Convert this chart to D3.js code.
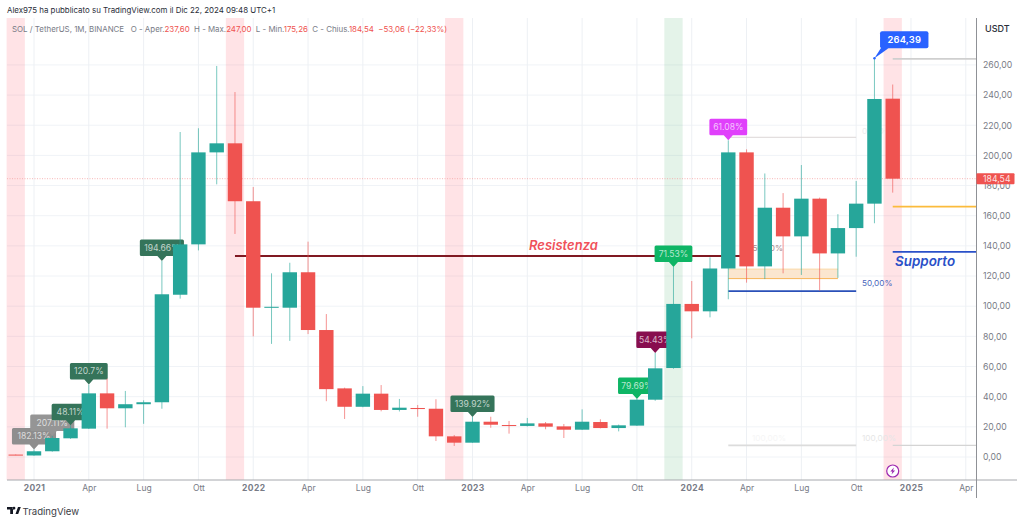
<!DOCTYPE html>
<html><head><meta charset="utf-8">
<script src="https://cdn.jsdelivr.net/npm/d3@7"></script>
<style>html,body{margin:0;padding:0;background:#fff}svg{display:block}text{font-family:Inter,Roboto,sans-serif}</style>
</head><body><svg id="c" width="1024" height="522"></svg>
<script>
// month index: 0 = Jan 2021
const months=[-1,0,1,2,3,4,5,6,7,8,9,10,11,12,13,14,15,16,17,18,19,20,21,22,23,24,25,26,27,28,29,30,31,32,33,34,35,36,37,38,39,40,41,42,43,44,45,46,47];
const opens=[1.6,1,3.8,12.4,18.8,42.2,32.3,35,36.3,107.6,141,202,208,169.6,99,99,122.5,84.2,45.5,33.3,42,31.2,32.5,32,13.7,9.5,23.4,21.2,20.6,22.3,20.3,18.1,23.2,19.2,20.8,38,59,101.5,96.6,125,202,126.4,165.3,146.3,171.3,135,151.8,168,237.6];
const highs=[1.7,5,14,21,48,52,43.8,37.6,130,215.5,218,259.3,242,179,121.8,128.8,142.8,94.8,46,47,47.7,38.5,34.5,38.3,14.6,26.5,26.7,23.9,25.9,23.2,21.9,31.6,25,21.5,38.5,69,126,116.7,132.4,210,204,188,175,193.6,172,161,183,264.4,247];
const lows=[1.2,0.8,3.5,12,18.6,18.8,19.7,22,32,105,137,180.8,147.9,80,75,77,81.5,37,25.2,33,30.3,30.2,26.7,10.6,7.3,9.5,19.4,15.5,20.2,18.4,12.6,17.9,19,17,20.6,37.3,58.5,78.7,92.6,104.6,115.6,118,121.8,120.7,110.3,118.7,132.8,155,175.3];
const closes=[1.5,3.8,12.6,19,42.2,32.3,35,36.3,107.9,141,202,208,169.6,99,99.6,122.5,84.2,45,33.3,42,31.2,32.7,31.8,13.7,9.5,23.4,21.4,20.6,22.3,20.1,18.1,23.4,19.2,21,38,58.8,101.5,96.6,125,202,126.4,165.3,146.3,171.3,135,151.8,168,237.4,184.54];

const priceTicks=[0,20,40,60,80,100,120,140,160,180,200,220,240,260];
const timeTicks=[0,3,6,9,12,15,18,21,24,27,30,33,36,39,42,45,48,51];
const timeLabels=["2021","Apr","Lug","Ott","2022","Apr","Lug","Ott","2023","Apr","Lug","Ott","2024","Apr","Lug","Ott","2025","Apr"];

const pinkBands=[-1,11,23,47];
const greenBands=[35];

const calloutMonths=[0,1,2,3,7,24,33,34,35,38];
const calloutTexts=["182.13%","207.11%","48.11%","120.7%","194.66%","139.92%","79.69%","54.43%","71.53%","61.08%"];
const calloutColors=["#8e8e8e","#959595","#35745a","#35745a","#35745a","#35745a","#0eb565","#880e4f","#0eb565","#e040fb"];

const resistenza=133.3, supporto=136, arancio=166, massimo=264, fibMid=110, fibTop=212, fibBot=7.7;
const zoneTop=124.6, zoneBottom=118.3, lastClose=184.54, peak=264.39;

const svg=d3.select("#c");
const L=7,R=976.5,T=18,B=480;
const x=d3.scaleLinear().domain([0,51]).range([34,965.8]);
const y=d3.scaleLinear().domain([-15.25,291.1]).range([B,T]);
const step=x(1)-x(0), bw=14.4;
const fmt=d3.formatLocale({decimal:",",thousands:".",grouping:[3],currency:["",""]}).format(".2f");
const col=(o,c)=>c>=o?"#26a69a":"#ef5350";

// grid
const grid=svg.append("g");
grid.selectAll(".h").data(priceTicks).join("line").attr("x1",L).attr("x2",R).attr("y1",d=>y(d)).attr("y2",d=>y(d)).attr("stroke","#f0f3f7");
grid.selectAll(".v").data(timeTicks).join("line").attr("x1",d=>x(d)).attr("x2",d=>x(d)).attr("y1",T).attr("y2",B).attr("stroke","#edf0f4");

// bands
svg.append("g").selectAll("rect").data(pinkBands).join("rect").attr("x",d=>x(d)-step/2).attr("width",step).attr("y",T).attr("height",B-T).attr("fill","#ff5261").attr("opacity",.16);
svg.append("g").selectAll("rect").data(greenBands).join("rect").attr("x",d=>x(d)-step/2).attr("width",step).attr("y",T).attr("height",B-T).attr("fill","#4caf6a").attr("opacity",.15);

// last price dotted
svg.append("line").attr("x1",L).attr("x2",R).attr("y1",y(lastClose)).attr("y2",y(lastClose)).attr("stroke","#f5a3a3").attr("stroke-width",.8).attr("stroke-dasharray","1 1.5");

// drawings
const seg=(i0,i1,v,c,w)=>svg.append("line").attr("x1",x(i0)).attr("x2",x(i1)).attr("y1",y(v)).attr("y2",y(v)).attr("stroke",c).attr("stroke-width",w);
svg.append("rect").attr("x",x(38)).attr("width",x(44)-x(38)).attr("y",y(zoneTop)).attr("height",y(zoneBottom)-y(zoneTop)).attr("fill","#fbe6cf").attr("stroke","none");
seg(38,44,zoneTop,"#fbd9a8",1); seg(38,44,zoneBottom,"#f8b65a",1);
seg(11,38.65,resistenza,"#801922",2);
seg(38,45,fibMid,"#2a50b8",1.6);
seg(38,45,fibTop,"#dcd6d6",1);
seg(38,45,fibBot,"#dcdcdc",1.6);
seg(47,x.invert(R),massimo,"#cfcfcf",1.6);
seg(47,x.invert(R),arancio,"#fbbb3c",1.8);
seg(47,x.invert(R),supporto,"#2a50c8",1.8);
seg(47,x.invert(R),fibBot,"#d4d4d4",1.4);

const note=(tx,ty,s,c,size=8.2)=>svg.append("text").attr("x",tx).attr("y",ty).attr("fill",c).attr("font-size",size).text(s);
note(752.5,251,"50,00%","#a88a8a");
note(862,286,"50,00%","#4a66bd");
note(862,441,"100,00%","#e6e6e6");
note(752,441,"100,00%","#f6f6f6");
note(862,134,"0,00%","#ededed");

svg.append("text").attr("x",529).attr("y",250).attr("fill","#f0525a").attr("font-size",13).attr("font-weight",600).attr("font-style","italic").text("Resistenza");
svg.append("text").attr("x",895).attr("y",266).attr("fill","#2a50c8").attr("font-size",13.4).attr("font-weight",600).attr("font-style","italic").text("Supporto");

// callouts (under the candles)
const cg=svg.append("g");
calloutMonths.forEach((m,k)=>{
  const g=cg.append("g");
  const tx=x(m), tipY=y(highs[months.indexOf(m)]);
  const s=calloutTexts[k], w=s.length*6.3, top=tipY-21.5, bot=tipY-5;
  g.append("path").attr("d",`M${tx-w/2+1.5},${top}H${tx+w/2-1.5}Q${tx+w/2},${top} ${tx+w/2},${top+1.5}V${bot-1.5}Q${tx+w/2},${bot} ${tx+w/2-1.5},${bot}H${tx+4.5}L${tx},${tipY}L${tx-4.5},${bot}H${tx-w/2+1.5}Q${tx-w/2},${bot} ${tx-w/2},${bot-1.5}V${top+1.5}Q${tx-w/2},${top} ${tx-w/2+1.5},${top}Z`).attr("fill",calloutColors[k]);
  g.append("text").attr("x",tx).attr("y",top+11.3).attr("text-anchor","middle").attr("font-size",8.6).attr("fill","#fff").attr("fill-opacity",.7).text(s);
});

// candles
const idx=d3.range(months.length);
const cs=svg.append("g");
cs.selectAll(".w").data(idx).join("line").attr("x1",i=>x(months[i])).attr("x2",i=>x(months[i])).attr("y1",i=>y(highs[i])).attr("y2",i=>y(lows[i])).attr("stroke",i=>col(opens[i],closes[i])).attr("stroke-opacity",.62).attr("stroke-width",1);
cs.selectAll(".b").data(idx).join("rect").attr("x",i=>x(months[i])-bw/2).attr("width",bw).attr("y",i=>y(Math.max(opens[i],closes[i]))).attr("height",i=>Math.max(1,Math.abs(y(opens[i])-y(closes[i])))).attr("fill",i=>col(opens[i],closes[i]));

// peak callout
const px=x(46), py=y(peak);
svg.append("path").attr("d",`M${px},${py}L${px+7},${py-11}L${px+14},${py-10}Z`).attr("fill","#2962ff");
svg.append("circle").attr("cx",px).attr("cy",py).attr("r",1.2).attr("fill","#2962ff");
svg.append("rect").attr("x",px+5.6).attr("y",py-27).attr("width",48.4).attr("height",17).attr("rx",2).attr("fill","#2962ff");
svg.append("text").attr("x",px+29.8).attr("y",py-15).attr("text-anchor","middle").attr("fill","#fff").attr("font-size",9.4).attr("font-weight",600).attr("letter-spacing",.2).text(fmt(peak));

// lightning marker
const mg=svg.append("g").attr("transform",`translate(${x(47)},471)`);
mg.append("circle").attr("r",6).attr("fill","#fff").attr("stroke","#9c27b0").attr("stroke-width",1.2);
mg.append("path").attr("d","M1.2,-3.6L-2.4,.6H-.3L-1.2,3.6L2.4,-.6H.3Z").attr("fill","#9c27b0");

// axes
const ay=svg.append("g").attr("transform",`translate(${R},0)`).call(d3.axisRight(y).tickValues(priceTicks).tickFormat(fmt).tickSize(0).tickPadding(6.5));
ay.select(".domain").remove();
ay.selectAll("text").attr("font-size",8.7).attr("fill","#787b86").style("font-family","Inter,Roboto,sans-serif");
const ax=svg.append("g").attr("transform",`translate(0,${B})`).call(d3.axisBottom(x).tickValues(timeTicks).tickFormat((d,i)=>timeLabels[i]).tickSize(0).tickPadding(5));
ax.select(".domain").remove();
ax.selectAll("text").attr("font-size",8.5).attr("fill","#787b86").style("font-family","Inter,Roboto,sans-serif")
  .attr("font-weight",(d,i)=>/^\d/.test(timeLabels[i])?700:400).attr("letter-spacing",(d,i)=>/^\d/.test(timeLabels[i])?.4:0);
svg.append("line").attr("x1",L).attr("x2",1017).attr("y1",B).attr("y2",B).attr("stroke","#a6a8ad").attr("stroke-width",1);
svg.append("line").attr("x1",R).attr("x2",R).attr("y1",T).attr("y2",498).attr("stroke","#8f9196").attr("stroke-width",1);

// last price tag
svg.append("rect").attr("x",R).attr("y",y(lastClose)-5.5).attr("width",38).attr("height",11).attr("rx",1).attr("fill","#ef5350");
svg.append("text").attr("x",R+6.5).attr("y",y(lastClose)+3).attr("fill","#fff").attr("fill-opacity",.85).attr("font-size",8.7).text(fmt(lastClose));
svg.append("text").attr("x",985).attr("y",32).attr("fill","#2a2e39").attr("font-size",9).attr("font-weight",500).text("USDT");

// header
svg.append("text").attr("x",7).attr("y",13).attr("font-size",7.9).attr("fill","#2a2e39").text("Alex975 ha pubblicato su TradingView.com il Dic 22, 2024 09:48 UTC+1");
const leg=svg.append("text").attr("x",12).attr("y",31.5).attr("font-size",7.9).attr("fill","#787b86");
[["SOL / TetherUS, 1M, BINANCE   O - Aper.",0],["237,60",1],["  H - Max.",0],["247,00",1],["  L - Min.",0],["175,26",1],["  C - Chius.",0],["184,54",1],["  −53,06 (−22,33%)",1]]
 .forEach(([s,r])=>leg.append("tspan").style("white-space","pre").attr("fill",r?"#ef5350":"#787b86").text(s));

// footer
svg.append("path").attr("d","M7,507H13V514H10.2V509.6H7ZM14,509.6A1.4,1.4 0 1 0 14,506.8A1.4,1.4 0 1 0 14,509.6ZM15.5,514L18,507H20.8L18.2,514Z").attr("fill","#131722");
svg.append("text").attr("x",22.5).attr("y",514.5).attr("font-size",9.6).attr("fill","#3a3d46").text("TradingView");
</script></body></html>
